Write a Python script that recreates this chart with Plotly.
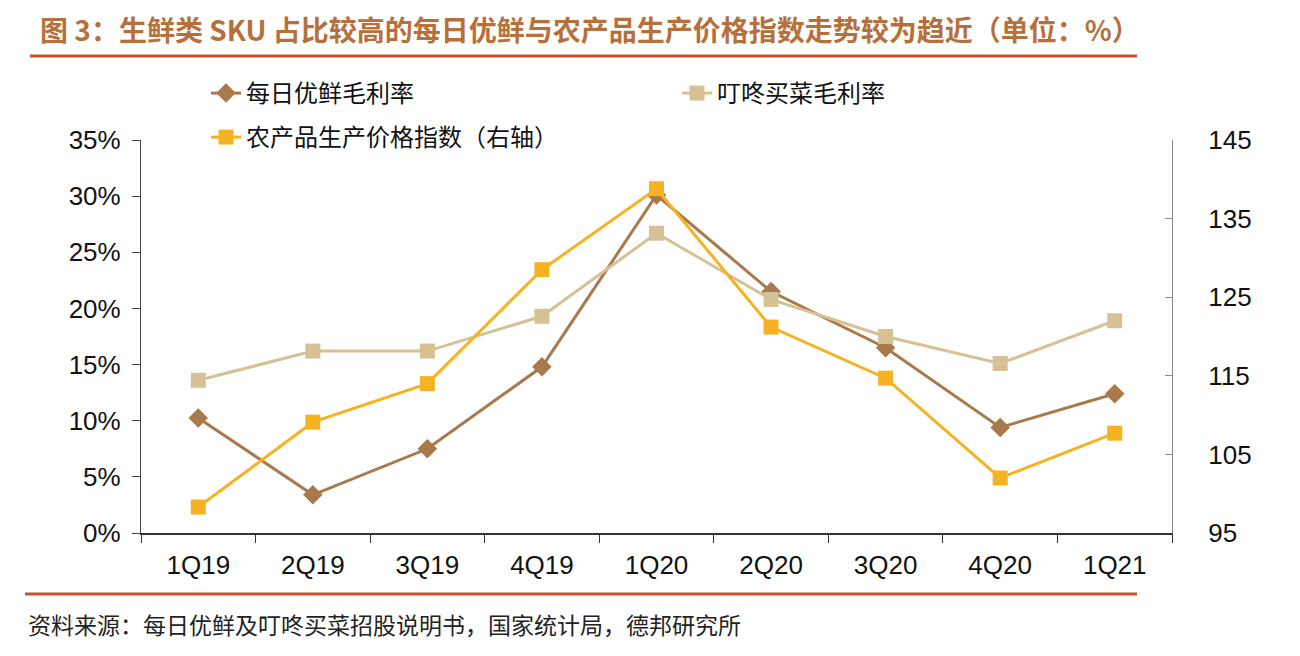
import plotly.graph_objects as go

quarters = ["1Q19", "2Q19", "3Q19", "4Q19", "1Q20", "2Q20", "3Q20", "4Q20", "1Q21"]
missfresh_margin = [0.1025, 0.034, 0.075, 0.148, 0.301, 0.215, 0.165, 0.094, 0.124]
dingdong_margin = [0.136, 0.162, 0.162, 0.193, 0.267, 0.208, 0.175, 0.151, 0.189]
agri_price_index = [98.3, 109.1, 114.0, 128.5, 138.8, 121.2, 114.7, 102.0, 107.7]

# the page puts the figure 8px in from the top-left corner
OFF = 8
W, H = 1300 - OFF, 656 - OFF
PL, PR, PT, PB = 141, 1172, 140, 533


def px(x):
    return (x - PL) / (PR - PL)


def py(y):
    return (PB - y) / (PB - PT)


cjk = "Noto Sans CJK SC"
num = "Liberation Sans, Arial"

fig = go.Figure()
fig.add_trace(go.Scatter(x=quarters, y=missfresh_margin, name="每日优鲜毛利率", mode="lines+markers",
                         line=dict(color="#A8794A", width=3), legend="legend",
                         marker=dict(symbol="diamond", size=15, color="#A8794A")))
fig.add_trace(go.Scatter(x=quarters, y=dingdong_margin, name="叮咚买菜毛利率", mode="lines+markers",
                         line=dict(color="#D5C194", width=3), legend="legend2",
                         marker=dict(symbol="square", size=15, color="#D5C194")))
fig.add_trace(go.Scatter(x=quarters, y=agri_price_index, name="农产品生产价格指数（右轴）", mode="lines+markers",
                         yaxis="y2", legend="legend3",
                         line=dict(color="#F5B323", width=3),
                         marker=dict(symbol="square", size=15, color="#F5B323")))

leg = dict(xanchor="left", yanchor="top", bgcolor="rgba(0,0,0,0)",
           font=dict(family=cjk, size=24, color="#111"))

fig.update_layout(
    width=W, height=H,
    margin=dict(l=PL - OFF, r=1300 - PR, t=PT - OFF, b=656 - PB),
    paper_bgcolor="white", plot_bgcolor="white",
    font=dict(family=num, size=26, color="#111"),
    showlegend=True,
    legend=dict(leg, x=px(206), y=py(71)),
    legend2=dict(leg, x=px(677), y=py(71)),
    legend3=dict(leg, x=px(206), y=py(115)),
    xaxis=dict(type="category", range=[-0.5, 8.5], showline=True, linecolor="#333", linewidth=1.5,
               ticks="outside", ticklen=8, tickcolor="#333", tickson="boundaries",
               showgrid=False, zeroline=False, ticklabelstandoff=8,
               tickfont=dict(family=num, size=26, color="#111")),
    yaxis=dict(range=[0, 0.35], dtick=0.05, tickformat=".0%", showline=True, linecolor="#444",
               linewidth=1.2, ticks="outside", ticklen=8, tickcolor="#444", showgrid=False,
               zeroline=False, ticklabelstandoff=6,
               tickfont=dict(family=num, size=26, color="#111")),
    yaxis2=dict(range=[95, 145], tick0=95, dtick=10, overlaying="y", side="right", showline=True,
                linecolor="#888", linewidth=1.2, ticks="inside", ticklen=7, tickcolor="#888",
                showgrid=False, zeroline=False, ticklabelstandoff=30,
                tickfont=dict(family=num, size=26, color="#111")),
)

# title, rules and source note
fig.add_annotation(text="<b>图 3：生鲜类 SKU 占比较高的每日优鲜与农产品生产价格指数走势较为趋近（单位：%）</b>",
                   xref="paper", yref="paper", x=px(38), y=py(29), xanchor="left", yanchor="middle",
                   showarrow=False, font=dict(family=cjk, size=28, color="#B5703C"))
fig.add_shape(type="line", xref="paper", yref="paper", x0=px(30), x1=px(1137), y0=py(56), y1=py(56),
              line=dict(color="#C0542E", width=3))
fig.add_shape(type="line", xref="paper", yref="paper", x0=px(25), x1=px(1137), y0=py(594), y1=py(594),
              line=dict(color="#C0542E", width=3))
fig.add_annotation(text="资料来源：每日优鲜及叮咚买菜招股说明书，国家统计局，德邦研究所",
                   xref="paper", yref="paper", x=px(26), y=py(624), xanchor="left", yanchor="middle",
                   showarrow=False, font=dict(family=cjk, size=23, color="#222"))

fig.write_html("out.html")
